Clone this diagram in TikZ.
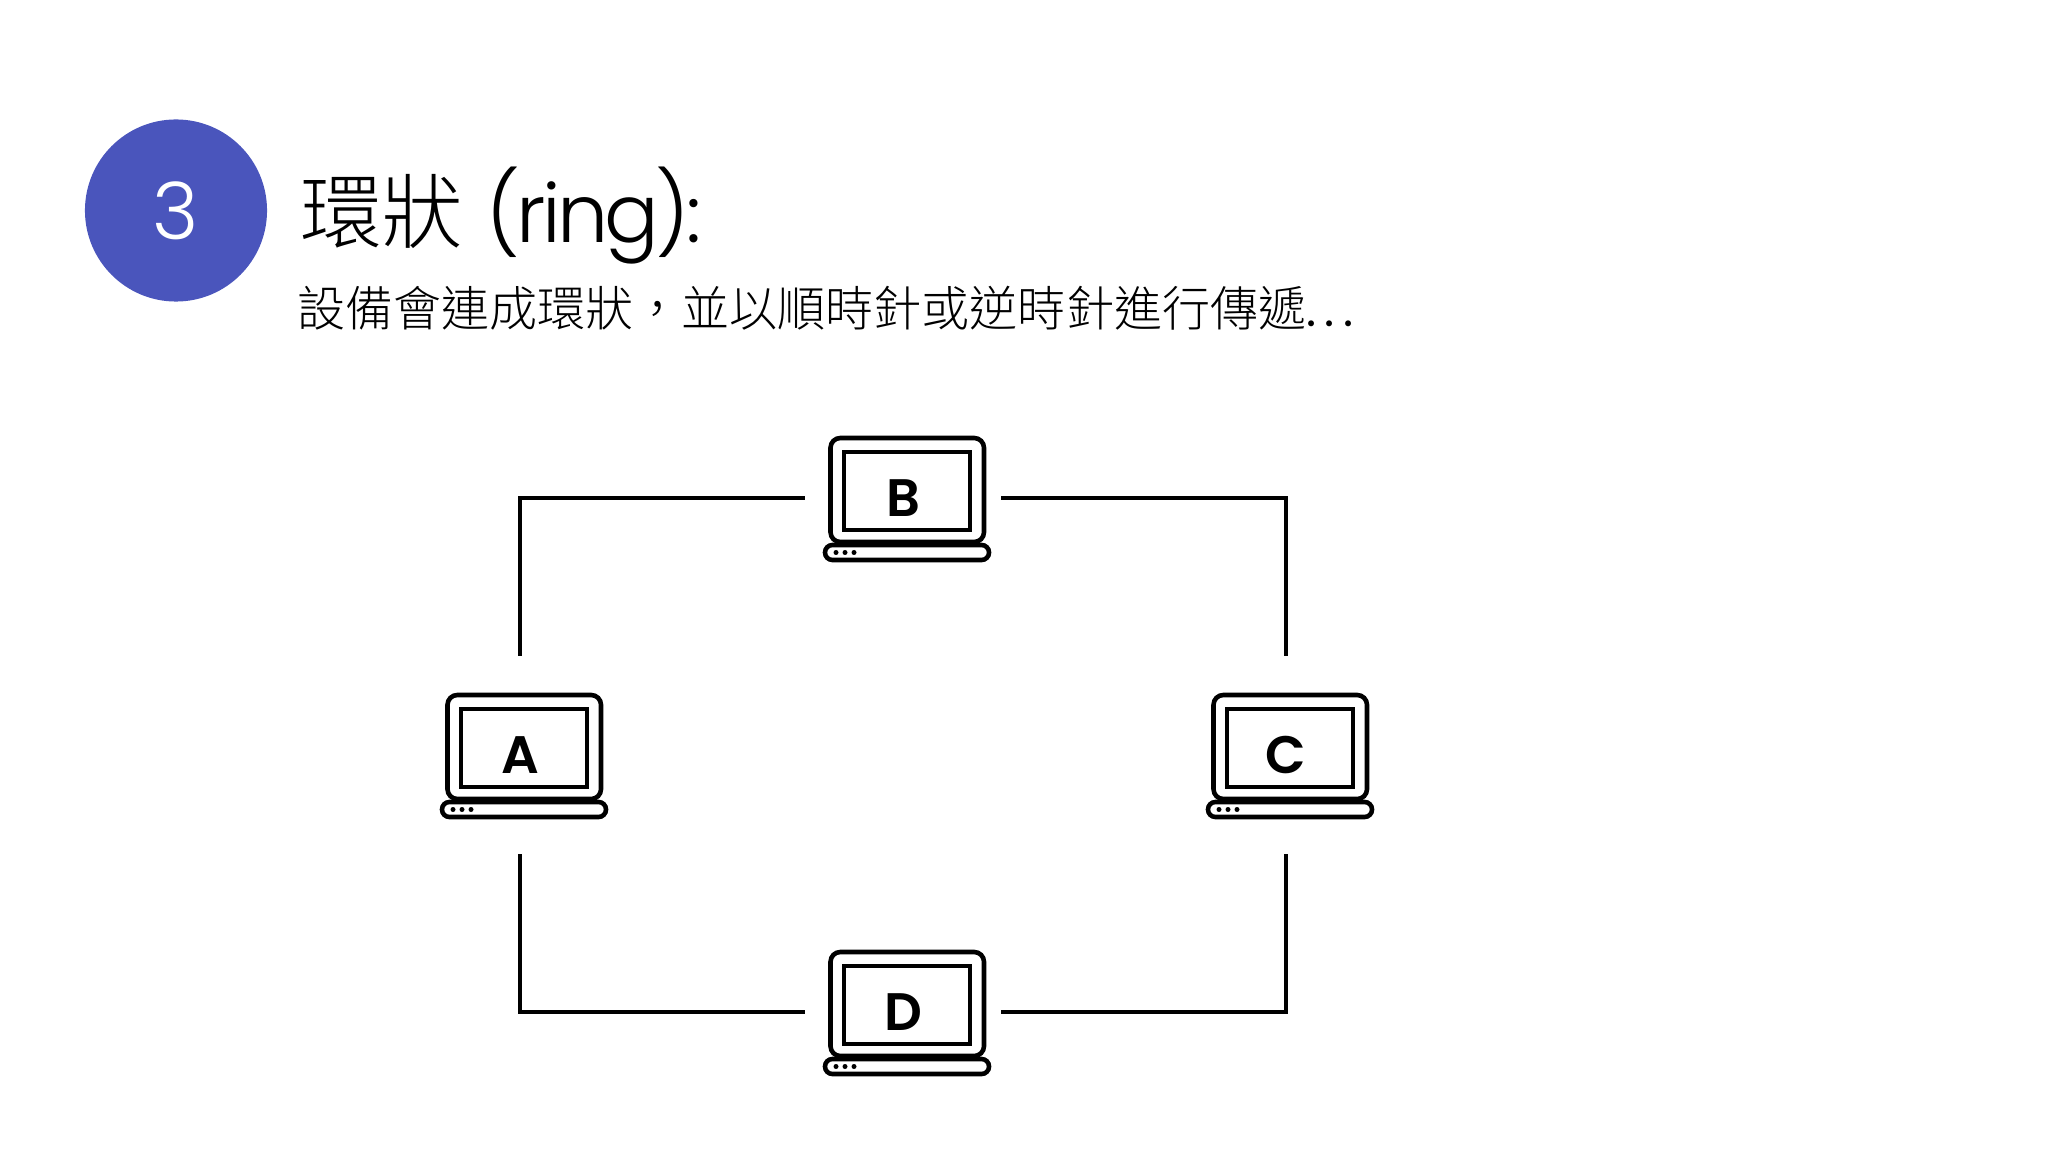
\documentclass[tikz,border=0pt]{standalone}
\usepackage{fontspec}
\setmainfont{Poppins Light}
\newfontfamily\titlefont[LetterSpace=-4.5]{Poppins Light}
\newfontfamily\dotfont{Poppins}
\newfontfamily\cjk{Noto Sans CJK TC Light}
\newfontfamily\boldfont{Poppins SemiBold}
\definecolor{circleblue}{HTML}{4A55BC}

\begin{document}
\begin{tikzpicture}[x=0.01cm,y=-0.01cm,thick,
    laptop node/.style={rectangle,minimum width=1.94cm,minimum height=1.96cm,inner sep=0pt,font=\boldfont\fontsize{15}{15}\selectfont},
    ring line/.style={line width=1.15pt},
    laptop line/.style={line width=1.3pt},
    text node/.style={anchor=base west,inner sep=0pt}]
    \useasboundingbox (0,0) rectangle (2048,1152);

    \node[circle,fill=circleblue,minimum size=1.82cm,inner sep=0pt,text=white,font=\fontsize{22.5}{23}\selectfont] (num) at (176,210.5) {3};
    \node[text node,font=\fontsize{23.2}{24}\selectfont] (title) at (299,243) {{\cjk 環狀}\kern6.5pt{\titlefont\fontsize{23}{24}\selectfont(ring):}};
    \node[text node,font=\fontsize{13.66}{14}\selectfont] (subtitle) at (296,327) {{\cjk 設備會連成環狀，並以順時針或逆時針進行傳遞}{\dotfont.\kern2.4pt.\kern2.4pt.}};

    \node[laptop node] (a) at (520,755) {A};
    \node[laptop node] (b) at (903,498) {B};
    \node[laptop node] (c) at (1286,755) {C};
    \node[laptop node] (d) at (903,1012) {D};

    \foreach \n in {a,b,c,d} {
        \begin{scope}[shift={(\n)},laptop line]
            \draw[rounded corners=2.8pt] (-72.5,44) -- (-72.5,-60) -- (81,-60) -- (81,44) -- cycle;
            \draw (-59,-46) rectangle (67,32);
            \draw[rounded corners=2.1pt,fill=white] (-78,47) rectangle (86,62);
            \foreach \dx in {-67,-58,-49}
                \fill (\dx,54.5) circle (2.5);
        \end{scope}
    }

    \draw[ring line] (a.north) |- (b.west);
    \draw[ring line] (b.east) -| (c.north);
    \draw[ring line] (c.south) |- (d.east);
    \draw[ring line] (d.west) -| (a.south);
\end{tikzpicture}
\end{document}
